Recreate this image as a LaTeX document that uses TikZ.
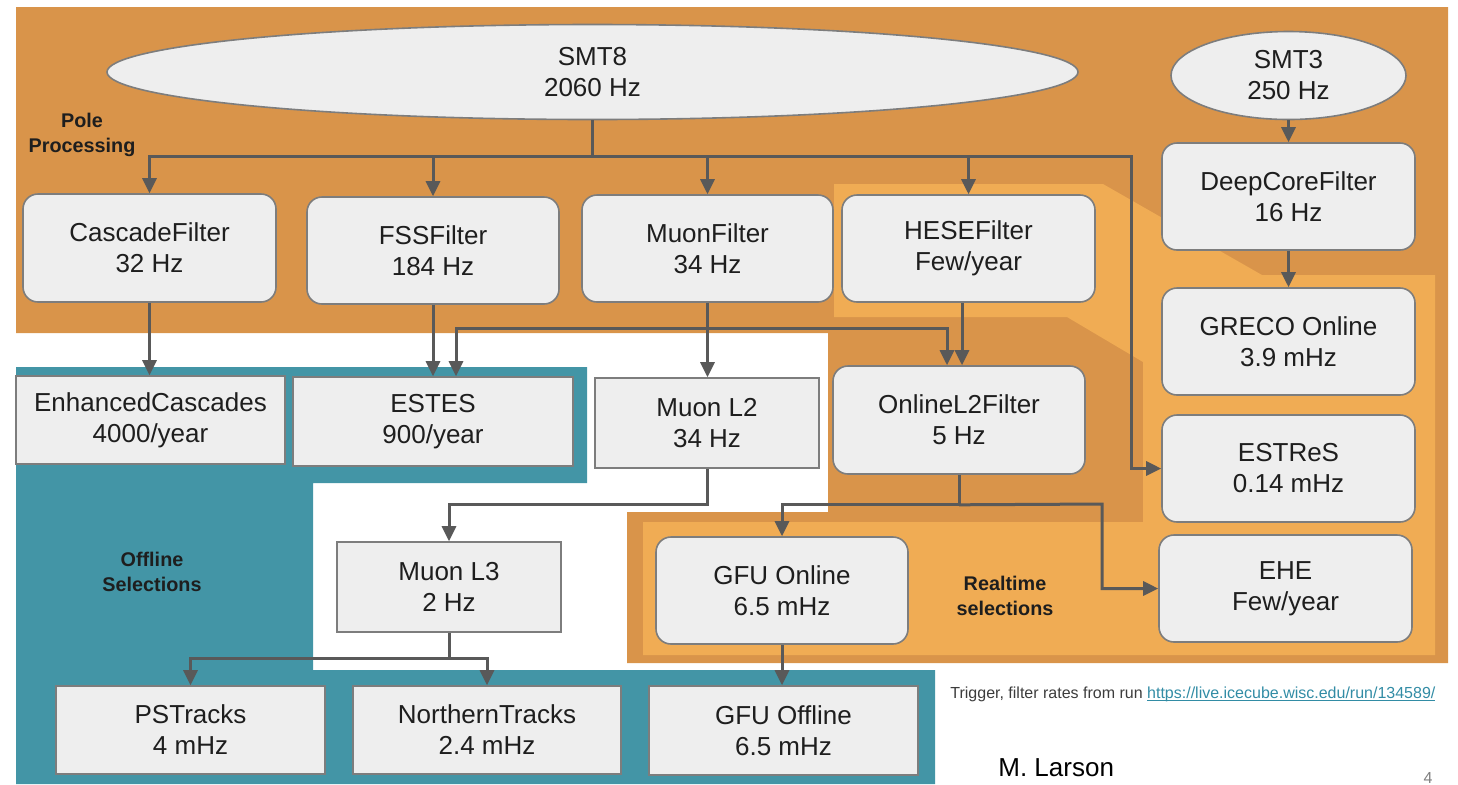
\documentclass[tikz,border=0pt]{standalone}
\usepackage{fontspec}
\setmainfont{Liberation Sans}
\usetikzlibrary{shapes.geometric,arrows.meta,calc}

\definecolor{poleorange}{RGB}{217,148,74}
\definecolor{rtorange}{RGB}{240,172,84}
\definecolor{offteal}{RGB}{67,149,166}
\definecolor{boxfill}{RGB}{238,238,238}
\definecolor{boxline}{RGB}{125,125,125}
\definecolor{wire}{RGB}{89,89,89}
\definecolor{inktext}{RGB}{30,30,30}
\definecolor{linkteal}{RGB}{50,140,165}
\definecolor{notegray}{RGB}{60,60,60}

\tikzset{
  base/.style={draw=boxline, fill=boxfill, line width=0.8pt, inner sep=0pt,
    align=center, text=inktext, font=\fontsize{13}{15.5}\selectfont},
  sqbox/.style={base},
  rbox/.style={base, rounded corners=7.5pt},
  oval/.style={base, ellipse},
  % box spanning left, top, right, bottom (in drawing units)
  span/.style args={#1,#2,#3,#4}{minimum width={(#3-#1)*0.5pt}, minimum height={(#4-#2)*0.5pt},
    at={({(#1+#3)/2},{(#2+#4)/2})}},
  wireline/.style={draw=wire, line width=1.5pt},
  arrow/.style={wireline, -{Triangle[width=7pt,length=7.5pt]}},
  tag/.style={font=\bfseries\fontsize{9.9}{12.5}\selectfont, align=center, text=inktext},
}

\begin{document}
\begin{tikzpicture}[x=0.5pt,y=-0.5pt]
\useasboundingbox (0,0) rectangle (1458,784);

% region backgrounds
\fill[poleorange] (16,7) -- (1448,7) -- (1448,663) -- (627,663) -- (627,512)
  -- (828,512) -- (828,333) -- (16,333) -- cycle;
\fill[rtorange] (834,184) -- (1103,184) -- (1262,275) -- (1435,275) -- (1435,655)
  -- (643,655) -- (643,522) -- (1143,522) -- (1143,362) -- (1067,317) -- (834,317) -- cycle;
\fill[offteal] (16,367) -- (587,367) -- (587,483) -- (313,483) -- (313,670)
  -- (935,670) -- (935,784) -- (16,784) -- cycle;

% triggers
\node[oval, minimum width=485.5pt, minimum height=47.5pt] (smt8) at (592.5,72) {SMT8\\2060 Hz};
\node[oval, minimum width=117.5pt, minimum height=44pt] (smt3) at (1288.5,75.5) {SMT3\\250 Hz};

% pole filters
\node[rbox, span={23,194,276,302}] (casc) {CascadeFilter\\32 Hz};
\node[rbox, span={307,197,559,304}] (fss) {FSSFilter\\184 Hz};
\node[rbox, span={582,195,833,302}] (muonf) {MuonFilter\\34 Hz};
\node[rbox, span={842,195,1095,302}] (hese) {HESEFilter\\Few/year};
\node[rbox, span={1162,143,1415,250}] (deepcore) {DeepCoreFilter\\16 Hz};

% realtime selections
\node[rbox, span={1162,288,1415,395}] (greco) {GRECO Online\\3.9 mHz};
\node[rbox, span={1162,415,1415,522}] (estres) {ESTReS\\0.14 mHz};
\node[rbox, span={1159,535,1412,642}] (ehe) {EHE\\Few/year};
\node[rbox, span={833,366,1085,474}] (onl2) {OnlineL2Filter\\5 Hz};
\node[rbox, span={656,537,908,644}] (gfuon) {GFU Online\\6.5 mHz};

% offline selections
\node[sqbox, span={16,376,285,464}] (enh) {EnhancedCascades\\4000/year};
\node[sqbox, span={293,377,573,466}] (estes) {ESTES\\900/year};
\node[sqbox, span={595,378,819,468}] (muonl2) {Muon L2\\34 Hz};
\node[sqbox, span={337,542,561,632}] (muonl3) {Muon L3\\2 Hz};
\node[sqbox, span={56,686,325,774}] (ps) {PSTracks\\4 mHz};
\node[sqbox, span={353,686,621,774}] (nt) {NorthernTracks\\2.4 mHz};
\node[sqbox, span={649,686,918,775}] (gfuoff) {GFU Offline\\6.5 mHz};

% SMT8 distribution bus
\coordinate (bus) at (592.5,156);
\coordinate (busR) at (1131,156);
\draw[wireline] (smt8.south) -- (bus);
\draw[arrow] (bus) -| (casc.north);
\draw[arrow] (bus) -| (fss.north);
\draw[arrow] (bus) -| (muonf.north);
\draw[arrow] (bus) -| (hese.north);
\draw[arrow] (bus) -- (busR) |- (estres.west);

% SMT3 chain
\draw[arrow] (smt3.south) -- (deepcore.north);
\draw[arrow] (deepcore.south) -- (greco.north);

% filters to selections
\draw[arrow] (casc.south) -- (casc.south |- enh.north);
\draw[arrow] (fss.south) -- (fss.south |- estes.north);
\coordinate (mj) at (707.5,328);
\coordinate (estesIn) at ([xshift=11.5pt]estes.north);
\coordinate (onl2InA) at ([xshift=-6pt]onl2.north);
\coordinate (heseOut) at ([xshift=-3.25pt]hese.south);
\draw[wireline] (muonf.south) -- (mj);
\draw[arrow] (mj) -- (mj |- muonl2.north);
\draw[arrow] (mj) -| (estesIn);
\draw[arrow] (mj) -| (onl2InA);
\draw[arrow] (heseOut) -- (heseOut |- onl2.north);

% muon chain
\draw[arrow] (muonl2.south) -- ++(0,36) -| (muonl3.north);
\draw[wireline] (muonl3.south) -- ++(0,26) coordinate (m3j);
\draw[arrow] (m3j) -| (ps.north);
\draw[arrow] (m3j) -| (nt.north);

% online L2 outputs
\draw[wireline] (onl2.south) -- ++(0,30) coordinate (oj);
\coordinate (ek) at (1102,504);
\draw[arrow] (oj) -| (gfuon.north);
\draw[arrow] (oj) -- (ek) |- (ehe.west);
\draw[arrow] (gfuon.south) -- (gfuon.south |- gfuoff.north);

% region labels
\node[tag] (poletag) at (82,135) {Pole\\Processing};
\node[tag] (offtag) at (152,572) {Offline\\Selections};
\node[tag] (rttag) at (1005,596) {Realtime\\selections};

% footer
\node[anchor=base west, inner sep=0pt, text=notegray, font=\fontsize{8}{9.6}\selectfont] (note)
  at (950,698) {Trigger, filter rates from run \textcolor{linkteal}{\underline{\smash{https://live.icecube.wisc.edu/run/134589/}}}};
\node[anchor=base west, inner sep=0pt, text=black, font=\fontsize{13}{15.5}\selectfont] (author)
  at (998,776) {M. Larson};
\node[inner sep=0pt, text=gray, font=\fontsize{8}{9}\selectfont] (page) at (1428,778) {4};
\end{tikzpicture}
\end{document}
